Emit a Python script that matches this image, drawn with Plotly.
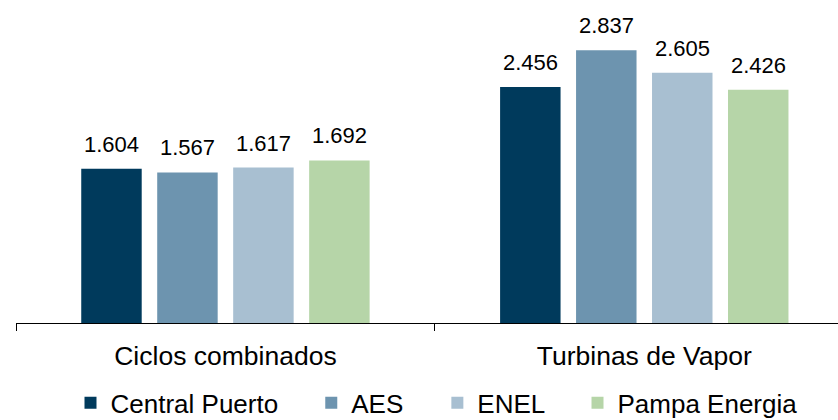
import plotly.graph_objects as go

categories = ["Ciclos combinados", "Turbinas de Vapor"]
series_names = ["Central Puerto", "AES", "ENEL", "Pampa Energia"]
central_puerto = [1.604, 2.456]
aes = [1.567, 2.837]
enel = [1.617, 2.605]
pampa_energia = [1.692, 2.426]
value_labels = {
    "Central Puerto": ["1.604", "2.456"],
    "AES": ["1.567", "2.837"],
    "ENEL": ["1.617", "2.605"],
    "Pampa Energia": ["1.692", "2.426"],
}

series_values = [central_puerto, aes, enel, pampa_energia]
colors = ["#003A5C", "#6D94AF", "#A8BFD1", "#B6D5A8"]
legend_ids = ["legend", "legend2", "legend3", "legend4"]
legend_x = [0.0663, 0.3592, 0.5126, 0.6831]

FONT = "Liberation Sans, Arial, sans-serif"
BARGAP = 0.2745
GROUPGAP = 0.204

fig = go.Figure()
for name, vals, col, lid in zip(series_names, series_values, colors, legend_ids):
    fig.add_trace(go.Bar(
        x=categories, y=vals, name=name, marker_color=col,
        marker_line_width=0, legend=lid, hoverinfo="skip",
    ))

n = len(series_names)
slot = (1 - BARGAP) / n
annotations = []
for j, (name, vals) in enumerate(zip(series_names, series_values)):
    for i, v in enumerate(vals):
        annotations.append(dict(
            x=i + (j - (n - 1) / 2) * slot, y=v, xref="x", yref="y",
            text=value_labels[name][i], showarrow=False,
            xanchor="center", yanchor="bottom", yshift=10,
            font=dict(family=FONT, size=22, color="#000000"),
        ))

legend_common = dict(
    orientation="h", y=-0.1745, yanchor="top", xanchor="left",
    font=dict(family=FONT, size=26, color="#000000"),
    bgcolor="rgba(0,0,0,0)", borderwidth=0,
)
layout_legends = {}
for lid, lx in zip(legend_ids, legend_x):
    layout_legends[lid] = dict(legend_common, x=lx)

fig.update_layout(
    width=838, height=420,
    margin=dict(l=16, r=0, t=0, b=97, autoexpand=False),
    paper_bgcolor="white", plot_bgcolor="white",
    barmode="group", bargap=BARGAP, bargroupgap=GROUPGAP,
    showlegend=True,
    annotations=annotations,
    xaxis=dict(
        range=[-0.5, 1.4625], showgrid=False, zeroline=False,
        showline=True, linecolor="#000000", linewidth=1,
        ticks="outside", tickson="boundaries", ticklen=7, tickwidth=1,
        tickcolor="#000000", ticklabelstandoff=9,
        tickfont=dict(family=FONT, size=26.5, color="#000000"),
        fixedrange=True,
    ),
    yaxis=dict(range=[0, 3.361], visible=False, fixedrange=True),
    **layout_legends,
)

fig.write_html(
    "out.html",
    config={"displayModeBar": False},
    post_script="document.body.style.margin='0';document.body.style.overflow='hidden';",
)
